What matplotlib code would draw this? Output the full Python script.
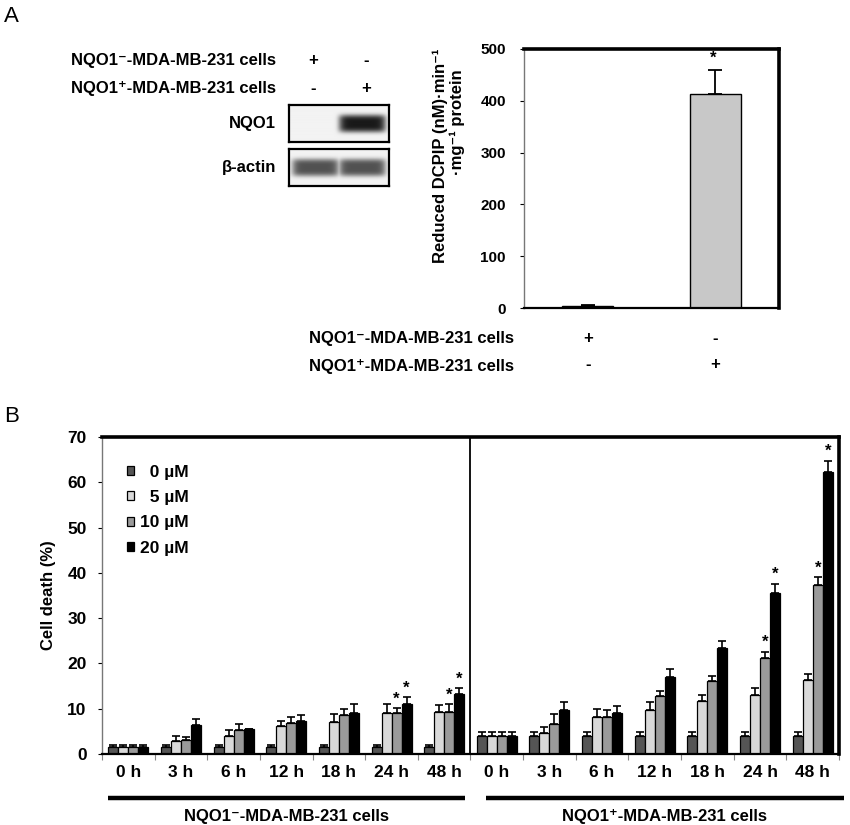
import numpy as np
import matplotlib
matplotlib.use("Agg")
import matplotlib.pyplot as plt
from matplotlib.patches import Patch

plt.rcParams['font.family'] = ['Liberation Sans', 'DejaVu Sans']
plt.rcParams['font.weight'] = 'bold'

# ---------------- data ----------------
# Panel A: DCPIP reduction
a_cats = ["NQO1-", "NQO1+"]
a_vals = [3, 413]
a_errs = [3, 47]
a_sig = [False, True]
a_ylabel_lines = ["Reduced DCPIP (nM)\u00b7min\u207b\u00b9", "\u00b7mg\u207b\u00b9 protein"]
row1_label = "NQO1\u207b-MDA-MB-231 cells"
row2_label = "NQO1\u207a-MDA-MB-231 cells"
row1_signs = ["+", "-"]
row2_signs = ["-", "+"]

# Western blot band intensities (0 = none, 1 = strongest)
blot_rows = ["NQO1", "\u03b2-actin"]
blot_bands = [[0.0, 1.0], [0.74, 0.74]]

# Panel B: cell death (%)
time_labels = ["0 h", "3 h", "6 h", "12 h", "18 h", "24 h", "48 h"]
doses = ["  0 \u00b5M", "  5 \u00b5M", "10 \u00b5M", "20 \u00b5M"]
neg_vals = [
    [1.5, 1.5, 1.5, 1.5, 1.5, 1.5, 1.5],      # 0 uM
    [1.5, 2.9, 4.0, 6.1, 7.0, 9.0, 9.2],      # 5 uM
    [1.5, 3.0, 5.2, 6.8, 8.6, 9.0, 9.3],      # 10 uM
    [1.5, 6.3, 5.6, 7.3, 9.0, 11.1, 13.3],    # 20 uM
]
neg_errs = [
    [0.5, 0.5, 0.5, 0.5, 0.5, 0.5, 0.5],
    [0.5, 1.1, 1.3, 1.2, 1.8, 2.1, 1.6],
    [0.5, 0.8, 1.4, 1.3, 1.4, 1.1, 1.7],
    [0.5, 1.4, 0.0, 1.4, 2.1, 1.4, 1.2],
]
pos_vals = [
    [3.9, 3.9, 3.9, 3.9, 3.9, 3.9, 3.9],
    [3.9, 4.7, 8.1, 9.7, 11.7, 13.0, 16.3],
    [3.9, 6.7, 8.1, 12.7, 16.1, 21.3, 37.3],
    [3.9, 9.8, 9.0, 16.9, 23.3, 35.5, 62.2],
]
pos_errs = [
    [0.9, 0.9, 0.9, 0.9, 0.9, 0.9, 0.9],
    [0.9, 1.2, 1.8, 1.8, 1.3, 1.6, 1.4],
    [0.9, 2.1, 1.6, 1.2, 1.1, 1.3, 1.7],
    [0.9, 1.7, 1.7, 1.9, 1.6, 2.1, 2.5],
]
sig_marks = [  # (half, dose index, time index)
    (0, 2, 5), (0, 3, 5), (0, 2, 6), (0, 3, 6),
    (1, 2, 5), (1, 3, 5), (1, 2, 6), (1, 3, 6),
]
group_labels = ["NQO1\u207b-MDA-MB-231 cells", "NQO1\u207a-MDA-MB-231 cells"]
dose_colors = ["#555555", "#d9d9d9", "#9a9a9a", "#000000"]

W, H = 850, 825
fig = plt.figure(figsize=(8.5, 8.25), dpi=100)
FS = 12


def fx(px):
    return px / W


def fy(py):
    return 1 - py / H


# Overlay axes in pixel coordinates for free text / lines
ov = fig.add_axes([0, 0, 1, 1])
ov.set_xlim(0, W)
ov.set_ylim(H, 0)
ov.axis('off')

ov.text(4, 16, "A", fontsize=16, fontweight='normal', va='center', ha='left')
ov.text(4, 416, "B", fontsize=16, fontweight='normal', va='center', ha='left')

# ---------- Western blot ----------
ov.text(276, 61, row1_label, fontsize=FS, ha='right', va='center')
ov.text(276, 89, row2_label, fontsize=FS, ha='right', va='center')
lane_x = [313, 366]
for i, s in enumerate(row1_signs):
    ov.text(lane_x[i], 60, s, fontsize=FS, ha='center', va='center')
for i, s in enumerate(row2_signs):
    ov.text(lane_x[i], 88, s, fontsize=FS, ha='center', va='center')

blot_boxes = [(105, 142), (149, 186)]
for r, (name, (y0, y1)) in enumerate(zip(blot_rows, blot_boxes)):
    ov.text(276, (y0 + y1) / 2, name, fontsize=FS, ha='right', va='center')
    bax = fig.add_axes([fx(289), fy(y1), fx(389 - 289), (y1 - y0) / H])
    nx, ny = 200, 60
    xx = np.linspace(0, 1, nx)
    yy = np.linspace(0, 1, ny)
    X, Y = np.meshgrid(xx, yy)
    img = np.zeros_like(X)
    centers = [0.265, 0.735]
    for j, inten in enumerate(blot_bands[r]):
        if inten <= 0:
            continue
        shape = np.exp(-((X - centers[j]) / 0.235) ** 8) * np.exp(-((Y - 0.5) / 0.24) ** 4)
        img = np.maximum(img, inten * shape)
    gray = 0.95 - 0.85 * img
    bax.imshow(gray, cmap='gray', vmin=0, vmax=1, aspect='auto',
               extent=[0, 1, 0, 1], interpolation='bilinear')
    bax.set_xticks([])
    bax.set_yticks([])
    for sp in bax.spines.values():
        sp.set_linewidth(1.6)

# ---------- Panel A bar chart ----------
axA = fig.add_axes([fx(524), fy(308), fx(779 - 524), (308 - 49) / H])
xa = np.arange(len(a_cats))
axA.bar(xa, a_vals, width=0.4, color="#c8c8c8", edgecolor='black', linewidth=1.0,
        yerr=[np.zeros(len(a_errs)), a_errs], capsize=5,
        error_kw=dict(elinewidth=1.3, capthick=1.3, ecolor='black'))
for i, s in enumerate(a_sig):
    if s:
        axA.text(xa[i] - 0.02, a_vals[i] + a_errs[i] + 8, "*", ha='center', va='bottom',
                 fontsize=12)
axA.set_xlim(-0.5, 1.5)
axA.set_ylim(0, 500)
axA.set_yticks(range(0, 501, 100))
axA.set_xticks([])
axA.tick_params(axis='y', labelsize=11, length=3, width=0.8, direction='out', pad=10)
for t in axA.get_yticklabels():
    t.set_fontweight('bold')
axA.spines['top'].set_linewidth(2.6)
axA.spines['right'].set_linewidth(2.6)
axA.spines['left'].set_linewidth(1.0)
axA.spines['left'].set_color('#777777')
axA.spines['bottom'].set_linewidth(1.6)

# two-line rotated y label placed like the reference
ov.text(440, 156, a_ylabel_lines[0], rotation=90, fontsize=12, ha='center', va='center')
ov.text(457, 122, a_ylabel_lines[1], rotation=90, fontsize=12, ha='center', va='center')

ov.text(514, 339, row1_label, fontsize=FS, ha='right', va='center')
ov.text(514, 366, row2_label, fontsize=FS, ha='right', va='center')
a_lane_x = [588, 715]
for i, s in enumerate(row1_signs):
    ov.text(a_lane_x[i], 338, s, fontsize=FS, ha='center', va='center')
for i, s in enumerate(row2_signs):
    ov.text(a_lane_x[i], 365, s, fontsize=FS, ha='center', va='center')

# ---------- Panel B ----------
axB = fig.add_axes([fx(102), fy(754), fx(839 - 102), (754 - 437) / H])
n_t = len(time_labels)
all_vals = [np.concatenate([neg_vals[d], pos_vals[d]]) for d in range(4)]
all_errs = [np.concatenate([neg_errs[d], pos_errs[d]]) for d in range(4)]
xg = np.arange(2 * n_t)
bw = 0.19
offs = (np.arange(4) - 1.5) * bw
handles = []
for d in range(4):
    axB.bar(xg + offs[d], all_vals[d], width=bw, color=dose_colors[d],
            edgecolor='black', linewidth=0.9,
            yerr=[np.zeros(len(all_errs[d])), all_errs[d]], capsize=3,
            error_kw=dict(elinewidth=1.2, capthick=1.2, ecolor='black'))
    handles.append(Patch(facecolor=dose_colors[d], edgecolor='black', linewidth=0.9))

for half, d, t in sig_marks:
    vals = neg_vals if half == 0 else pos_vals
    errs = neg_errs if half == 0 else pos_errs
    xi = half * n_t + t + offs[d]
    axB.text(xi, vals[d][t] + errs[d][t] + 0.4, "*", ha='center', va='bottom',
             fontsize=12)

axB.axvline(n_t - 0.5, color='black', linewidth=1.3)
axB.set_xlim(-0.5, 2 * n_t - 0.5)
axB.set_ylim(0, 70)
axB.set_yticks(range(0, 71, 10))
axB.set_xticks(xg)
axB.set_xticklabels(time_labels * 2)
axB.set_xticks(np.arange(-0.5, 2 * n_t, 1.0), minor=True)
axB.tick_params(axis='x', which='major', length=0, labelsize=12.5, pad=8)
axB.tick_params(axis='x', which='minor', length=4, width=0.8, color='#888888')
axB.tick_params(axis='y', labelsize=12.5, length=3, width=0.8, pad=8)
for t in axB.get_xticklabels() + axB.get_yticklabels():
    t.set_fontweight('bold')
axB.spines['top'].set_linewidth(2.6)
axB.spines['right'].set_linewidth(2.6)
axB.spines['left'].set_linewidth(1.0)
axB.spines['left'].set_color('#777777')
axB.spines['bottom'].set_linewidth(1.6)
axB.set_ylabel("Cell death (%)", fontsize=12, fontweight='bold', labelpad=8)

leg = axB.legend(handles, doses, loc='upper left', bbox_to_anchor=(0.034, 0.913),
                 frameon=False, fontsize=12.5, handlelength=0.42, handleheight=0.42,
                 handletextpad=0.3, labelspacing=0.6, borderaxespad=0, borderpad=0)
for t in leg.get_texts():
    t.set_fontweight('bold')

# group lines and labels under panel B
seg_px = [(108, 465), (486, 844)]
for (x0, x1), lab in zip(seg_px, group_labels):
    ov.plot([x0, x1], [798, 798], color='black', linewidth=3.2, solid_capstyle='butt')
    ov.text((x0 + x1) / 2, 817, lab, fontsize=FS, ha='center', va='center')

fig.savefig("out.png", dpi=100)
